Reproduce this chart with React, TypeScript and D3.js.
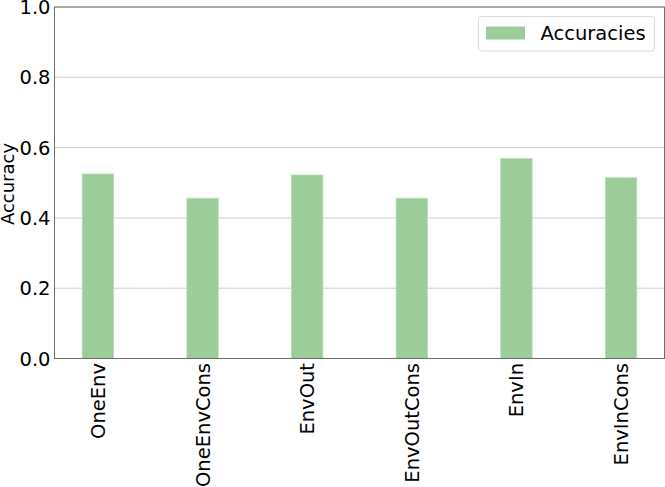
import React from "react";
import * as d3 from "d3";

const categories = ["OneEnv", "OneEnvCons", "EnvOut", "EnvOutCons", "EnvIn", "EnvInCons"];
const accuracies = [0.525, 0.456, 0.522, 0.456, 0.569, 0.514];
const yTicks = [0.0, 0.2, 0.4, 0.6, 0.8, 1.0];
const seriesName = "Accuracies";

const W = 665;
const H = 487;
const left = 54.5;
const right = 664.5;
const top = 7;
const bottom = 358.5;
const barWidth = 0.3;
const font = "DejaVu Sans, sans-serif";

export default function App() {
  const x = d3.scaleLinear().domain([-0.415, categories.length - 1 + 0.415]).range([left, right]);
  const y = d3.scaleLinear().domain([0, 1]).range([bottom, top]);
  const color = "#9bcc9a";
  return (
    <svg width={W} height={H} style={{ position: "absolute", left: 0, top: 0 }}>
      <rect x={0} y={0} width={W} height={H} fill="#fff" />
      {yTicks.map((t) => (
        <line key={"g" + t} x1={left} x2={right} y1={y(t)} y2={y(t)} stroke="#d0d0d0" strokeWidth={1} />
      ))}
      {accuracies.map((v, i) => (
        <rect
          key={categories[i]}
          x={x(i - barWidth / 2)}
          width={x(barWidth) - x(0)}
          y={y(v)}
          height={y(0) - y(v)}
          fill={color}
          stroke="#b8dcb8"
          strokeWidth={0.8}
        />
      ))}
      <rect x={left} y={top} width={right - left} height={bottom - top} fill="none" stroke="#6e6e6e" strokeWidth={1} />
      {yTicks.map((t) => (
        <text key={"t" + t} x={50.5} y={y(t)} dy="0.36em" textAnchor="end" fontFamily={font} fontSize={19.5} fill="#000">
          {t.toFixed(1)}
        </text>
      ))}
      {categories.map((c, i) => (
        <text
          key={"x" + c}
          transform={`translate(${x(i)},363) rotate(-90)`}
          textAnchor="end"
          dy="0.36em"
          fontFamily={font}
          fontSize={19.5}
          fill="#000"
        >
          {c}
        </text>
      ))}
      <text transform={`translate(14,184) rotate(-90)`} textAnchor="middle" fontFamily={font} fontSize={18} fill="#000">
        Accuracy
      </text>
      <g>
        <rect x={478.5} y={16.5} width={176} height={34.5} rx={3} fill="#fff" fillOpacity={0.8} stroke="#dcdcdc" strokeWidth={1} />
        <rect x={486} y={26.5} width={39} height={13} fill={color} />
        <text x={540.5} y={40} fontFamily={font} fontSize={19.5} fill="#000">
          {seriesName}
        </text>
      </g>
    </svg>
  );
}
